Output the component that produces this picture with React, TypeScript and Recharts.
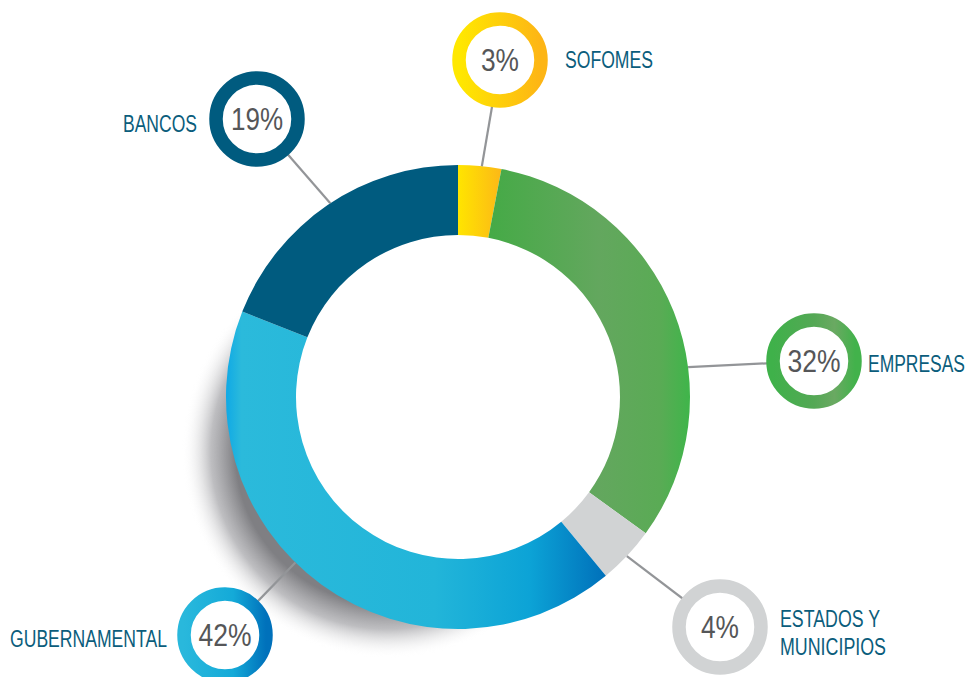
import React from 'react';
import { PieChart, Pie, Cell } from 'recharts';

const categories = ['SOFOMES', 'EMPRESAS', 'ESTADOS Y MUNICIPIOS', 'GUBERNAMENTAL', 'BANCOS'];
const shares = [3, 32, 4, 42, 19];
const pctLabels = ['3%', '32%', '4%', '42%', '19%'];
const labelLines = [['SOFOMES'], ['EMPRESAS'], ['ESTADOS Y', 'MUNICIPIOS'], ['GUBERNAMENTAL'], ['BANCOS']];

const data = categories.map((name, i) => ({ name, value: shares[i] }));
const shadowData = [{ name: 'shadow', value: 1 }];

// layout of callouts (style, not data)
const sliceFills = ['url(#gSof)', 'url(#gEmp)', '#d1d3d4', 'url(#gGub)', '#005b7f'];
const ringStrokes = ['url(#rSof)', 'url(#rEmp)', '#d1d3d4', 'url(#rGub)', '#005b7f'];
const callouts = [
  { x: 500, y: 60, anchorDeg: 5.9, tx: 565, ty: 68, ta: 'start', pw: 38, lw: [88] },
  { x: 814, y: 361, anchorDeg: 82.6, tx: 868, ty: 372, ta: 'start', pw: 53, lw: [97] },
  { x: 720, y: 627, anchorDeg: 133.3, tx: 780, ty: 627, ta: 'start', pw: 38, lw: [100, 106] },
  { x: 225, y: 635, anchorDeg: 224.5, tx: 167, ty: 647, ta: 'end', pw: 53, lw: [157] },
  { x: 257, y: 119, anchorDeg: -33.4, tx: 197, ty: 132, ta: 'end', pw: 52, lw: [74] },
];

const FONT = '"Liberation Sans", Arial, sans-serif';

const renderLabel = (props: any) => {
  const { cx, cy, outerRadius, index } = props;
  const c = callouts[index];
  const a = (c.anchorDeg * Math.PI) / 180;
  const ax = cx + outerRadius * Math.sin(a);
  const ay = cy - outerRadius * Math.cos(a);
  const lines = labelLines[index];
  return (
    <g key={`lab-${index}`}>
      <line x1={ax} y1={ay} x2={c.x} y2={c.y} stroke="#939598" strokeWidth={2.2} />
      <circle cx={c.x} cy={c.y} r={41} fill="#fff" stroke={ringStrokes[index]} strokeWidth={13.5} />
      <text
        x={c.x}
        y={c.y + 11}
        textAnchor="middle"
        fontFamily={FONT}
        fontSize={31.5}
        fill="#555658"
        textLength={c.pw}
        lengthAdjust="spacingAndGlyphs"
      >
        {pctLabels[index]}
      </text>
      {lines.map((t, j) => (
        <text
          key={j}
          x={c.tx}
          y={c.ty + j * 28}
          textAnchor={c.ta}
          fontFamily={FONT}
          fontSize={23.5}
          fill="#0b5d7c"
          textLength={c.lw[j]}
          lengthAdjust="spacingAndGlyphs"
        >
          {t}
        </text>
      ))}
    </g>
  );
};

export default function App() {
  return (
    <div style={{ position: 'absolute', left: 0, top: 0, width: 968, height: 677, background: '#fff' }}>
      <PieChart width={968} height={677} margin={{ top: 0, right: 0, bottom: 0, left: 0 }}>
        <defs>
          <linearGradient id="gSof" x1="0" y1="0" x2="1" y2="0">
            <stop offset="0" stopColor="#ffe500" />
            <stop offset="1" stopColor="#fcb817" />
          </linearGradient>
          <linearGradient id="rSof" x1="0" y1="0" x2="1" y2="0">
            <stop offset="0" stopColor="#ffe800" />
            <stop offset="1" stopColor="#fdb515" />
          </linearGradient>
          <linearGradient id="gEmp" x1="0" y1="0" x2="1" y2="0">
            <stop offset="0" stopColor="#45aa46" />
            <stop offset="0.55" stopColor="#63a75e" />
            <stop offset="0.85" stopColor="#5aab55" />
            <stop offset="1" stopColor="#3fb54a" />
          </linearGradient>
          <linearGradient id="rEmp" x1="0" y1="0" x2="1" y2="0">
            <stop offset="0" stopColor="#3fb14a" />
            <stop offset="0.5" stopColor="#54a855" />
            <stop offset="0.75" stopColor="#6aa962" />
            <stop offset="1" stopColor="#42b24b" />
          </linearGradient>
          <linearGradient id="gGub" x1="0" y1="0" x2="1" y2="0">
            <stop offset="0" stopColor="#0fa9e6" />
            <stop offset="0.04" stopColor="#2bbadb" />
            <stop offset="0.55" stopColor="#22b5d9" />
            <stop offset="0.8" stopColor="#0ca3d6" />
            <stop offset="1" stopColor="#0070ba" />
          </linearGradient>
          <linearGradient id="rGub" x1="0" y1="0" x2="1" y2="0">
            <stop offset="0" stopColor="#29b8dc" />
            <stop offset="0.6" stopColor="#14aad8" />
            <stop offset="1" stopColor="#0071bb" />
          </linearGradient>
          <radialGradient id="shadowGrad" gradientUnits="userSpaceOnUse" cx={388} cy={452} r={206}>
            <stop offset="0.74" stopColor="#78787c" stopOpacity={0.95} />
            <stop offset="0.86" stopColor="#a2a2a6" stopOpacity={0.7} />
            <stop offset="1" stopColor="#ffffff" stopOpacity={0} />
          </radialGradient>
          <mask id="outsideDonut" maskUnits="userSpaceOnUse" x={0} y={0} width={968} height={677}>
            <rect x={0} y={0} width={968} height={677} fill="#fff" />
            <circle cx={458} cy={397} r={230} fill="#000" />
          </mask>
        </defs>
        <Pie
          data={shadowData}
          dataKey="value"
          cx={388}
          cy={452}
          innerRadius={0}
          outerRadius={206}
          startAngle={0}
          endAngle={360}
          stroke="none"
          isAnimationActive={false}
          legendType="none"
        >
          <Cell fill="url(#shadowGrad)" mask="url(#outsideDonut)" />
        </Pie>
        <Pie
          data={data}
          dataKey="value"
          cx={458}
          cy={397}
          innerRadius={162}
          outerRadius={232}
          startAngle={90}
          endAngle={-270}
          stroke="none"
          isAnimationActive={false}
          label={renderLabel}
          labelLine={false}
        >
          {data.map((d, i) => (
            <Cell key={d.name} fill={sliceFills[i]} />
          ))}
        </Pie>
      </PieChart>
    </div>
  );
}
